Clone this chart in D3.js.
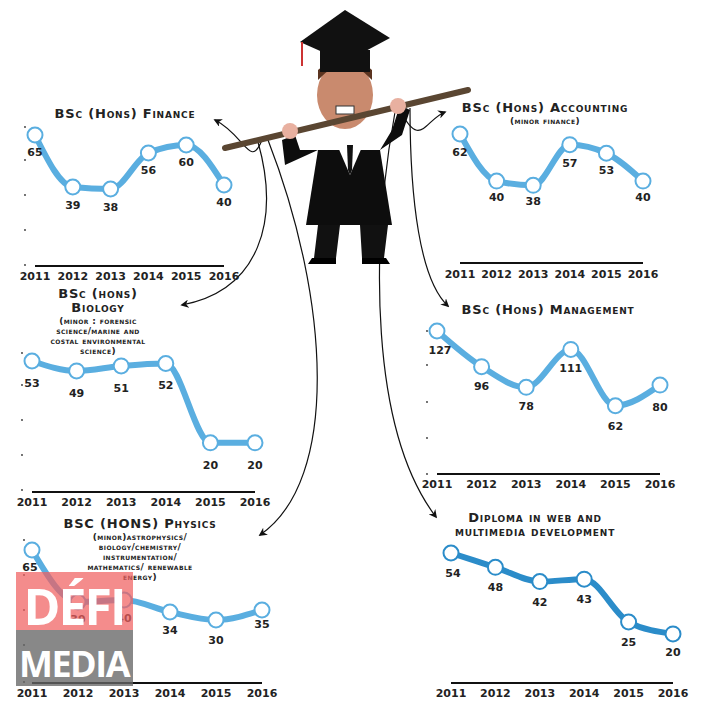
<!DOCTYPE html>
<html><head><meta charset="utf-8">
<script src="https://cdn.jsdelivr.net/npm/d3@7"></script>
<style>body{margin:0;background:#fff}svg{display:block}</style>
</head><body><div id="chart"></div>
<script>
const years = [2011, 2012, 2013, 2014, 2015, 2016];
const financeValues = [65, 39, 38, 56, 60, 40];
const accountingValues = [62, 40, 38, 57, 53, 40];
const biologyValues = [53, 49, 51, 52, 20, 20];
const managementValues = [127, 96, 78, 111, 62, 80];
const physicsValues = [65, 39, 40, 34, 30, 35];
const diplomaValues = [54, 48, 42, 43, 25, 20];

// panel layout (pixels), kept separate from the data
const panels = [
  {title:["BSc (Hons) Finance"], sub:[], tx:125, ty:118, vals:financeValues,
   x0:35, x1:224, yTop:135, vTop:65, k:2.0, base:266, lab:280, dots:[127,160,195,230,265], dx:25, color:"#5aaee0"},
  {title:["BSc (Hons) Accounting"], sub:["(minor finance)"], tx:545, ty:112, vals:accountingValues,
   x0:460, x1:643, yTop:134, vTop:62, k:2.14, base:263, lab:278, dots:[], dx:0, color:"#5aaee0"},
  {title:["BSc (hons)","Biology"], sub:["(minor : forensic","science/marine and","costal environmental","science)"], tx:98, ty:298, vals:biologyValues,
   x0:32, x1:255, yTop:361, vTop:53, k:2.48, base:492, lab:506, dots:[353,385,420,455,490], dx:22, color:"#5aaee0"},
  {title:["BSc (Hons) Management"], sub:[], tx:548, ty:314, vals:managementValues,
   x0:437, x1:660, yTop:331, vTop:127, k:1.15, base:474, lab:488, dots:[331,365,402,438,474], dx:427, color:"#5aaee0"},
  {title:["BSC (HONS) Physics"], sub:["(minor)astrophysics/","biology/chemistry/","instrumentation/","mathematics/ renewable","energy)"], tx:140, ty:528, vals:physicsValues,
   x0:32, x1:262, yTop:550, vTop:65, k:2.0, base:683, lab:697, dots:[540,575,610,645,682], dx:24, color:"#5aaee0"},
  {title:["Diploma in web and","multimedia development"], sub:[], tx:535, ty:522, vals:diplomaValues,
   x0:451, x1:673, yTop:553, vTop:54, k:2.38, base:683, lab:697, dots:[], dx:0, color:"#2b8cc9"}
];
const labelOffsets = [
  [[0,17],[0,18],[0,18],[0,17],[0,17],[0,17]],
  [[0,18],[0,16],[0,16],[0,18],[0,17],[0,16]],
  [[0,22],[0,22],[0,22],[0,22],[0,22],[0,22]],
  [[3,19],[0,19],[0,19],[0,19],[0,20],[0,22]],
  [[-2,17],[0,17],[0,18],[0,18],[0,20],[0,14]],
  [[2,20],[0,20],[0,20],[0,20],[0,20],[0,18]]
];

const W = 707, H = 720;
const svg = d3.select("#chart").append("svg").attr("width", W).attr("height", H);

svg.append("defs").append("marker").attr("id","arr").attr("viewBox","0 0 10 10")
  .attr("refX",8).attr("refY",5).attr("markerWidth",7).attr("markerHeight",7).attr("orient","auto-start-reverse")
  .append("path").attr("d","M0,0 L10,5 L0,10 L3,5 Z").attr("fill","#111");

// connector ropes from the stick
const ropes = [
  "M262,140 C250,170 245,135 215,120",
  "M400,110 C420,150 425,120 445,112",
  "M258,142 C280,220 260,290 182,305",
  "M410,108 C410,200 420,280 448,306",
  "M268,140 C330,300 340,480 260,535",
  "M395,112 C370,250 370,430 436,517"
];
svg.selectAll(".rope").data(ropes).join("path")
  .attr("d", d => d).attr("fill","none").attr("stroke","#111").attr("stroke-width",1.2)
  .attr("marker-end","url(#arr)");

// graduate figure (simple shapes)
const g = svg.append("g");
g.append("path").attr("d","M318,150 L306,225 L392,225 L380,150 Z").attr("fill","#0d0d0d");
g.append("path").attr("d","M318,225 L314,258 L336,258 L340,225 Z M360,225 L362,258 L384,258 L388,225 Z").attr("fill","#111");
g.append("path").attr("d","M312,258 L336,258 L336,264 L308,264 Z M362,258 L386,258 L390,264 L362,264 Z").attr("fill","#000");
g.append("path").attr("d","M335,140 L350,175 L365,140 Z").attr("fill","#fff");
g.append("path").attr("d","M347,145 L353,145 L352,170 L350,175 L348,170 Z").attr("fill","#111");
g.append("path").attr("d","M318,150 L285,165 L282,140 L295,135 L300,150 Z").attr("fill","#0d0d0d");
g.append("path").attr("d","M380,150 L402,135 L410,110 L400,105 L392,130 Z").attr("fill","#0d0d0d");
g.append("ellipse").attr("cx",345).attr("cy",95).attr("rx",28).attr("ry",34).attr("fill","#c98a6e");
g.append("path").attr("d","M318,80 Q345,50 372,80 L372,70 Q345,45 318,70 Z").attr("fill","#5b3420");
g.append("path").attr("d","M300,42 L345,10 L390,38 L345,62 Z").attr("fill","#111");
g.append("rect").attr("x",320).attr("y",50).attr("width",50).attr("height",22).attr("fill","#111");
g.append("line").attr("x1",302).attr("y1",42).attr("x2",302).attr("y2",66).attr("stroke","#c33").attr("stroke-width",2);
g.append("rect").attr("x",336).attr("y",106).attr("width",18).attr("height",8).attr("fill","#fff").attr("stroke","#333");
g.append("line").attr("x1",225).attr("y1",148).attr("x2",468).attr("y2",90)
  .attr("stroke","#5a4632").attr("stroke-width",6).attr("stroke-linecap","round");
g.append("circle").attr("cx",290).attr("cy",131).attr("r",8).attr("fill","#e8b0a0");
g.append("circle").attr("cx",398).attr("cy",106).attr("r",8).attr("fill","#e8b0a0");

const fontT = "'DejaVu Sans', sans-serif";

panels.forEach((p, i) => {
  const x = d3.scalePoint().domain(years).range([p.x0, p.x1]);
  const y = d3.scaleLinear().domain([p.vTop, p.vTop - 100]).range([p.yTop, p.yTop + 100 * p.k]);
  const pg = svg.append("g");

  p.title.forEach((t, j) => pg.append("text").attr("x", p.tx).attr("y", p.ty + j * 14)
    .attr("text-anchor","middle").attr("font-family",fontT).attr("font-weight","bold")
    .attr("font-size",13).style("font-variant","small-caps").attr("letter-spacing",0.8)
    .attr("fill","#222").text(t));
  const sy = p.ty + p.title.length * 14 - 2;
  p.sub.forEach((t, j) => pg.append("text").attr("x", p.tx).attr("y", sy + j * 10)
    .attr("text-anchor","middle").attr("font-family",fontT).attr("font-weight","bold")
    .attr("font-size",9).style("font-variant","small-caps").attr("letter-spacing",0.4)
    .attr("fill","#222").text(t));

  pg.selectAll(".dot").data(p.dots).join("circle").attr("cx", p.dx).attr("cy", d => d).attr("r",0.9).attr("fill","#333");

  pg.append("line").attr("x1", p.x0).attr("x2", p.x1).attr("y1", p.base).attr("y2", p.base)
    .attr("stroke","#111").attr("stroke-width",2);
  pg.selectAll(".yr").data(years).join("text").attr("x", d => x(d)).attr("y", p.lab)
    .attr("text-anchor","middle").attr("font-family",fontT).attr("font-weight","bold")
    .attr("font-size",11).attr("fill","#222").text(d => d);

  const pts = years.map((yr, j) => ({yr, v: p.vals[j]}));
  const line = d3.line().x(d => x(d.yr)).y(d => y(d.v)).curve(d3.curveMonotoneX);
  pg.append("path").attr("d", line(pts)).attr("fill","none").attr("stroke", p.color)
    .attr("stroke-width",6).attr("stroke-linecap","round");
  pg.selectAll(".pt").data(pts).join("circle").attr("cx", d => x(d.yr)).attr("cy", d => y(d.v))
    .attr("r",7.5).attr("fill","#fff").attr("stroke", p.color).attr("stroke-width",2);
  pg.selectAll(".val").data(pts).join("text")
    .attr("x", (d, j) => x(d.yr) + labelOffsets[i][j][0])
    .attr("y", (d, j) => y(d.v) + labelOffsets[i][j][1] + 4)
    .attr("text-anchor","middle").attr("font-family",fontT).attr("font-weight","bold")
    .attr("font-size",11).attr("fill","#222").text(d => d.v);
});

// watermark
const wm = svg.append("g");
wm.append("rect").attr("x",16).attr("y",572).attr("width",117).attr("height",58).attr("fill","#f06060").attr("opacity",0.72);
wm.append("rect").attr("x",16).attr("y",630).attr("width",117).attr("height",56).attr("fill","#666").attr("opacity",0.78);
wm.append("text").attr("x",74).attr("y",625).attr("text-anchor","middle").attr("font-family","'Open Sans', sans-serif")
  .attr("font-weight","bold").attr("font-size",50).attr("fill","#fff").attr("letter-spacing",-2).text("DÉFI");
wm.append("text").attr("x",74).attr("y",677).attr("text-anchor","middle").attr("font-family","'Open Sans', sans-serif")
  .attr("font-weight","bold").attr("font-size",36).attr("fill","#fff").attr("letter-spacing",-1.5).text("MEDIA");
</script></body></html>
